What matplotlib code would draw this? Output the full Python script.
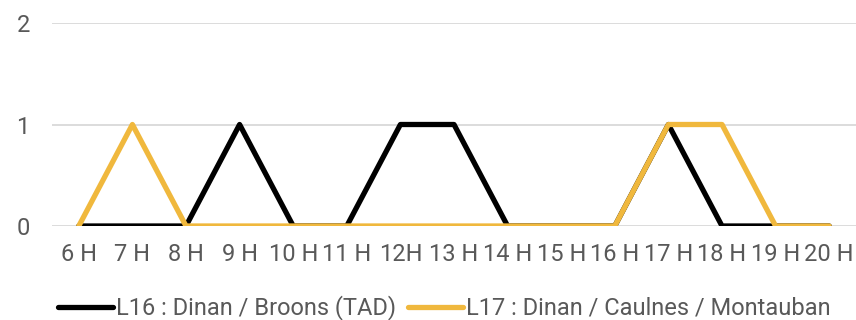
import numpy as np
import matplotlib.pyplot as plt

# Horaires et nombre de passages par ligne
heures = ["6 H", "7 H", "8 H", "9 H", "10 H", "11 H", "12H", "13 H", "14 H",
          "15 H", "16 H", "17 H", "18 H", "19 H", "20 H"]
l16 = [0, 0, 0, 1, 0, 0, 1, 1, 0, 0, 0, 1, 0, 0, 0]
l17 = [0, 1, 0, 0, 0, 0, 0, 0, 0, 0, 0, 1, 1, 0, 0]
noms = ["L16 : Dinan / Broons (TAD)", "L17 : Dinan / Caulnes / Montauban"]

plt.rcParams['font.family'] = ['Roboto', 'DejaVu Sans']
gris = "#595959"

fig = plt.figure(figsize=(8.56, 3.2), dpi=100)
ax = fig.add_axes([52 / 856, 94 / 320, 804 / 856, 203 / 320])

x = np.arange(len(heures))
ax.plot(x, l16, color="black", lw=3.8, solid_capstyle="round",
        solid_joinstyle="round", label=noms[0], zorder=3)
ax.plot(x, l17, color="#F0B83D", lw=3.8, solid_capstyle="round",
        solid_joinstyle="round", label=noms[1], zorder=4)

ax.set_xlim(-0.5, len(heures) - 0.5)
ax.set_ylim(0, 2)
ax.set_yticks([0, 1, 2])
ax.set_xticks(x)
ax.set_xticklabels(heures)
ax.tick_params(axis="both", length=0, labelsize=17, labelcolor=gris)
ax.tick_params(axis="y", pad=16)
ax.tick_params(axis="x", pad=12)
ax.grid(axis="y", color="#D9D9D9", lw=1.3)
ax.set_axisbelow(True)
for s in ax.spines.values():
    s.set_visible(False)

fig.legend(loc="center", bbox_to_anchor=(0.519, 12 / 320), ncol=2, frameon=False,
           fontsize=17, labelcolor=gris, handlelength=2.33, handletextpad=0.13,
           columnspacing=0.5, borderaxespad=0)

fig.savefig("out.png", dpi=100)
